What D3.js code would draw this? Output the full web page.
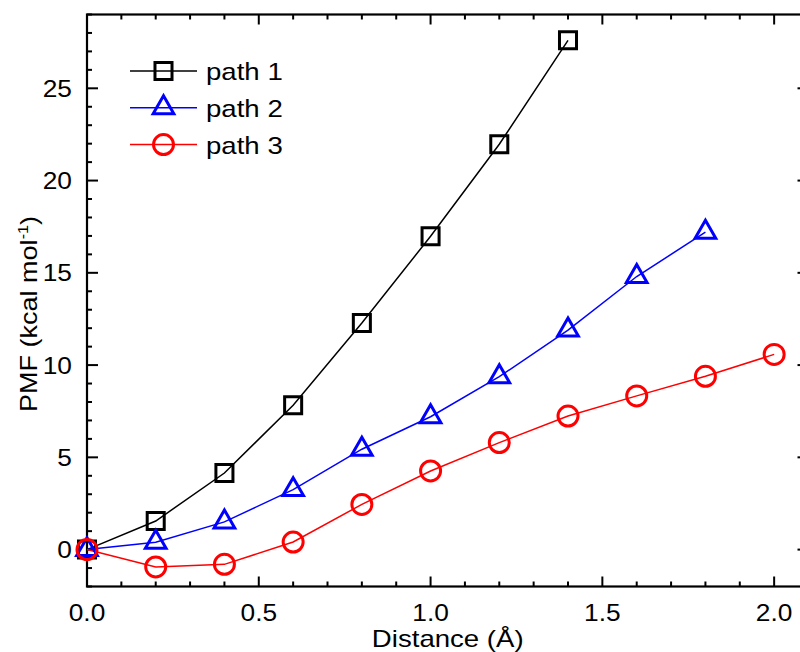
<html>
<script src="https://d3js.org/d3.v7.min.js"></script>
<style>
body { margin: 0; background: #fff; }
text { font-family: Arial, "Liberation Sans", sans-serif; fill: #000; }
</style>
<body>
<svg width="800" height="652"></svg>
<script>
// values
const distance = [0, 0.2, 0.4, 0.6, 0.8, 1.0, 1.2, 1.4, 1.6, 1.8, 2.0];
const path1 = [0, 1.55, 4.15, 7.82, 12.28, 16.98, 21.97, 27.6];
const path2 = [0, 0.4, 1.5, 3.25, 5.44, 7.2, 9.37, 11.9, 14.8, 17.2];
const path3 = [0, -0.94, -0.8, 0.41, 2.45, 4.26, 5.8, 7.24, 8.33, 9.39, 10.58];
const seriesNames = ['path 1', 'path 2', 'path 3'];
const xTickLabels = [0, 0.5, 1.0, 1.5, 2.0];
const yTickLabels = [0, 5, 10, 15, 20, 25];

const svg = d3.select('svg');
const pLeft = 87, pRight = 808.5, pTop = 14.5, pBottom = 586.5;

const xs = d3.scaleLinear().domain([0, 2.1]).range([pLeft, pRight]);
const ys = d3.scaleLinear().domain([-2, 29]).range([pBottom, pTop]);

const series = [
  {name: seriesNames[0], vals: path1, color: '#000000', sym: d3.symbolSquare, size: 290},
  {name: seriesNames[1], vals: path2, color: '#0000ff', sym: d3.symbolTriangle, size: 185},
  {name: seriesNames[2], vals: path3, color: '#ff0000', sym: d3.symbolCircle, size: 314}
];

// ticks
const xMinor = d3.range(0, 2.101, 0.1);
const yMinor = d3.range(-2, 29.01, 1);
const tg = svg.append('g').attr('stroke', '#000').attr('stroke-width', 2);
xMinor.forEach(function(v) {
  const major = Math.abs(v * 2 - Math.round(v * 2)) < 1e-6;
  const len = major ? 10 : 5;
  tg.append('line').attr('x1', xs(v)).attr('x2', xs(v)).attr('y1', pBottom).attr('y2', pBottom - len);
  tg.append('line').attr('x1', xs(v)).attr('x2', xs(v)).attr('y1', pTop).attr('y2', pTop + len);
});
yMinor.forEach(function(v) {
  const major = v % 5 === 0;
  const len = major ? 11 : 5;
  tg.append('line').attr('y1', ys(v)).attr('y2', ys(v)).attr('x1', pLeft).attr('x2', pLeft + len);
  tg.append('line').attr('y1', ys(v)).attr('y2', ys(v)).attr('x1', pRight).attr('x2', pRight - len);
});

// frame
svg.append('rect')
  .attr('x', pLeft).attr('y', pTop)
  .attr('width', pRight - pLeft).attr('height', pBottom - pTop)
  .attr('fill', 'none').attr('stroke', '#000').attr('stroke-width', 2.2);

// tick labels
svg.append('g').selectAll('text').data(xTickLabels).enter().append('text')
  .attr('transform', d => 'translate(' + xs(d) + ',621) scale(1.12,1)')
  .attr('text-anchor', 'middle')
  .style('font-size', '23.5px')
  .text(d => d3.format('.1f')(d));

svg.append('g').selectAll('text').data(yTickLabels).enter().append('text')
  .attr('transform', d => 'translate(72,' + (ys(d) + 8.5) + ') scale(1.12,1)')
  .attr('text-anchor', 'end')
  .style('font-size', '23.5px')
  .text(d => d);

// axis titles
svg.append('text')
  .attr('transform', 'translate(' + ((pLeft + pRight) / 2) + ',647) scale(1.2,1)')
  .attr('text-anchor', 'middle')
  .style('font-size', '23px')
  .text('Distance (Å)');

const yt = svg.append('text')
  .attr('transform', 'translate(37,314) rotate(-90) scale(1.15,1)')
  .attr('text-anchor', 'middle')
  .style('font-size', '23.5px');
yt.append('tspan').text('PMF (kcal mol');
yt.append('tspan').attr('dy', -9).style('font-size', '14px').text('-1');
yt.append('tspan').attr('dy', 9).text(')');

// lines and markers
const line = d3.line().x((d, i) => xs(distance[i])).y(d => ys(d));
series.forEach(function(s) {
  svg.append('path')
    .attr('d', line(s.vals))
    .attr('fill', 'none').attr('stroke', s.color).attr('stroke-width', 1.5);
});
series.forEach(function(s) {
  svg.append('g').selectAll('path').data(s.vals).enter().append('path')
    .attr('transform', (d, i) => 'translate(' + xs(distance[i]) + ',' + ys(d) + ')')
    .attr('d', d3.symbol().type(s.sym).size(s.size))
    .attr('fill', 'none').attr('stroke', s.color).attr('stroke-width', 3);
});

// legend
const lg = svg.append('g');
series.forEach(function(s, i) {
  const y = 71 + i * 36.8;
  lg.append('line').attr('x1', 130).attr('x2', 197).attr('y1', y).attr('y2', y)
    .attr('stroke', s.color).attr('stroke-width', 1.5);
  lg.append('path').attr('transform', 'translate(163.5,' + y + ')')
    .attr('d', d3.symbol().type(s.sym).size(s.size))
    .attr('fill', 'none').attr('stroke', s.color).attr('stroke-width', 3);
  lg.append('text')
    .attr('transform', 'translate(206,' + (y + 9) + ') scale(1.15,1)')
    .style('font-size', '24px')
    .text(s.name);
});
</script>
</body>
</html>
